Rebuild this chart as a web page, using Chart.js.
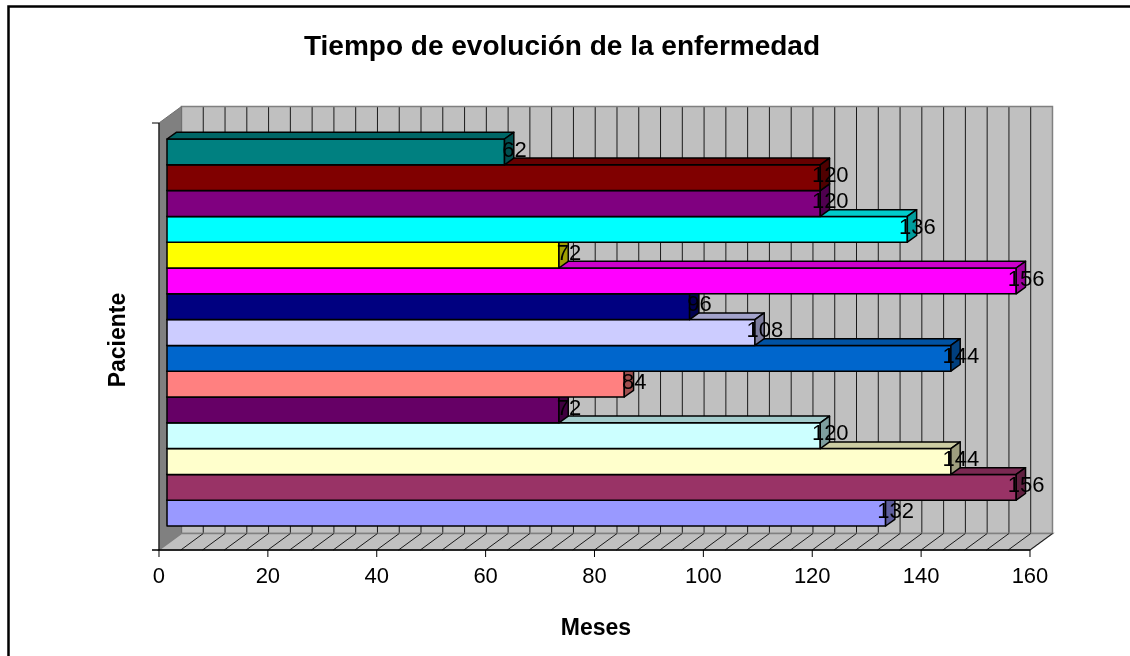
<!DOCTYPE html>
<html lang="es">
<head>
<meta charset="utf-8">
<title>Tiempo de evolución de la enfermedad</title>
<script src="https://cdn.jsdelivr.net/npm/chart.js@4.4.1/dist/chart.umd.min.js"></script>
<style>
  html, body { margin: 0; padding: 0; background: #fff; }
</style>
</head>
<body>
<canvas id="c" width="1130" height="656"></canvas>
<script>
// Datos: paciente 1 abajo, paciente 15 arriba (orden de Excel)
const pacientes = ['1', '2', '3', '4', '5', '6', '7', '8', '9', '10', '11', '12', '13', '14', '15'];
const meses = [132, 156, 144, 120, 72, 84, 144, 108, 96, 156, 72, 136, 120, 120, 62];
const colores = ['#9999FF', '#993366', '#FFFFCC', '#CCFFFF', '#660066', '#FF8080', '#0066CC', '#CCCCFF',
                 '#000080', '#FF00FF', '#FFFF00', '#00FFFF', '#800080', '#800000', '#008080'];
const ticksX = [0, 20, 40, 60, 80, 100, 120, 140, 160];
const pasoGrid = 4;

const TITULO = 'Tiempo de evolución de la enfermedad';
const TITULO_X = 'Meses';
const TITULO_Y = 'Paciente';

const FONT = '"Liberation Sans", Arial, sans-serif';
const PROF = { dx: 22.5, dy: -16.5 };   // profundidad total del "cubo"
const F0 = 0.356;                       // la cara frontal de las barras está a esta fracción
const BAR = { dx: 9.3, dy: -6.7 };      // profundidad de cada barra

function shade(hex, k) {
  const n = parseInt(hex.slice(1), 16);
  const r = Math.round(((n >> 16) & 255) * k);
  const g = Math.round(((n >> 8) & 255) * k);
  const b = Math.round((n & 255) * k);
  return `rgb(${r},${g},${b})`;
}

function poly(ctx, pts, fill, stroke, lw) {
  ctx.beginPath();
  pts.forEach(([px, py], i) => (i ? ctx.lineTo(px, py) : ctx.moveTo(px, py)));
  ctx.closePath();
  if (fill) { ctx.fillStyle = fill; ctx.fill(); }
  if (stroke) { ctx.strokeStyle = stroke; ctx.lineWidth = lw || 1; ctx.stroke(); }
}

function line(ctx, xa, ya, xb, yb, color, lw) {
  ctx.beginPath();
  ctx.moveTo(xa, ya);
  ctx.lineTo(xb, yb);
  ctx.strokeStyle = color;
  ctx.lineWidth = lw || 1;
  ctx.stroke();
}

// geometría del plano frontal a partir del área de la gráfica
function frente(chart) {
  const { chartArea: ca, scales: { x } } = chart;
  const ox = -F0 * PROF.dx, oy = -F0 * PROF.dy;
  return {
    ox, oy,
    x0: x.getPixelForValue(0) + ox,
    x1: x.getPixelForValue(160) + ox,
    yT: ca.top - 16,
    yB: ca.bottom + 24,
  };
}

const excel3d = {
  id: 'excel3d',
  beforeDatasetsDraw(chart) {
    const { ctx, scales: { x } } = chart;
    const f = frente(chart);
    const { dx, dy } = PROF;
    ctx.save();
    ctx.fillStyle = '#fff';
    ctx.fillRect(0, 0, chart.width, chart.height);

    // pared del fondo
    ctx.fillStyle = '#c0c0c0';
    ctx.fillRect(f.x0 + dx, f.yT + dy, f.x1 - f.x0, f.yB - f.yT);
    for (let v = pasoGrid; v < 160; v += pasoGrid) {
      const gx = x.getPixelForValue(v) + f.ox + dx;
      line(ctx, gx, f.yT + dy, gx, f.yB + dy, '#1a1a1a', 1);
    }
    ctx.strokeStyle = '#808080';
    ctx.lineWidth = 1.5;
    ctx.strokeRect(f.x0 + dx, f.yT + dy, f.x1 - f.x0, f.yB - f.yT);

    // pared izquierda
    poly(ctx, [[f.x0, f.yT], [f.x0 + dx, f.yT + dy], [f.x0 + dx, f.yB + dy], [f.x0, f.yB]], '#808080', '#707070', 1);

    // suelo
    poly(ctx, [[f.x0, f.yB], [f.x1, f.yB], [f.x1 + dx, f.yB + dy], [f.x0 + dx, f.yB + dy]], '#c0c0c0', '#808080', 1.5);
    for (let v = pasoGrid; v <= 160; v += pasoGrid) {
      const gx = x.getPixelForValue(v) + f.ox;
      line(ctx, gx, f.yB, gx + dx, f.yB + dy, '#1a1a1a', 1);
    }

    // ejes
    line(ctx, f.x0, f.yT, f.x0, f.yB, '#000', 1);
    line(ctx, f.x0 - 7, f.yB, f.x1, f.yB, '#000', 1.5);
    line(ctx, f.x0 - 7, f.yT, f.x0, f.yT, '#000', 1);
    ticksX.forEach(v => {
      const tx = x.getPixelForValue(v) + f.ox;
      line(ctx, tx, f.yB, tx, f.yB + 7, '#000', 1);
    });
    ctx.restore();
  },
  afterDatasetsDraw(chart) {
    const { ctx } = chart;
    const meta = chart.getDatasetMeta(0);
    ctx.save();
    ctx.lineJoin = 'round';
    meta.data.forEach((el, i) => {
      const { x: xe, y, base, height } = el.getProps(['x', 'y', 'base', 'height'], true);
      const top = y - height / 2, bot = y + height / 2;
      const c = colores[i];
      poly(ctx, [[base, top], [xe, top], [xe, bot], [base, bot]], c, '#000', 1.5);
      poly(ctx, [[base, top], [xe, top], [xe + BAR.dx, top + BAR.dy], [base + BAR.dx, top + BAR.dy]], shade(c, 0.8), '#000', 1.5);
      poly(ctx, [[xe, top], [xe + BAR.dx, top + BAR.dy], [xe + BAR.dx, bot + BAR.dy], [xe, bot]], shade(c, 0.62), '#000', 1.5);
    });
    // etiquetas de valor
    ctx.fillStyle = '#000';
    ctx.font = `22px ${FONT}`;
    ctx.textAlign = 'center';
    ctx.textBaseline = 'alphabetic';
    meta.data.forEach((el, i) => {
      const { x: xe, y, height } = el.getProps(['x', 'y', 'height'], true);
      ctx.fillText(String(meses[i]), xe + 10, y - height / 2 + 17.5);
    });
    ctx.restore();
  },
  afterDraw(chart) {
    const { ctx, scales: { x } } = chart;
    const f = frente(chart);
    ctx.save();
    ctx.fillStyle = '#000';
    // etiquetas del eje X
    ctx.font = `22px ${FONT}`;
    ctx.textAlign = 'center';
    ctx.textBaseline = 'middle';
    ticksX.forEach(v => ctx.fillText(String(v), x.getPixelForValue(v) + f.ox, 577));

    ctx.textBaseline = 'alphabetic';
    ctx.font = `bold 28px ${FONT}`;
    ctx.fillText(TITULO, 562, 55);
    ctx.font = `bold 23px ${FONT}`;
    ctx.fillText(TITULO_X, 596, 634.5);
    ctx.translate(125, 340);
    ctx.rotate(-Math.PI / 2);
    ctx.fillText(TITULO_Y, 0, 0);
    ctx.restore();

    // marco exterior (sólo se ven los lados superior e izquierdo)
    ctx.save();
    ctx.strokeStyle = '#000';
    ctx.lineWidth = 2.5;
    ctx.strokeRect(8.5, 6.5, 2000, 2000);
    ctx.restore();
  },
};

new Chart(document.getElementById('c').getContext('2d'), {
  type: 'bar',
  data: {
    labels: pacientes,
    datasets: [{
      label: TITULO_X,
      data: meses,
      backgroundColor: colores,
      borderColor: '#000',
      borderWidth: 1,
      categoryPercentage: 1,
      barPercentage: 1,
    }],
  },
  options: {
    indexAxis: 'y',
    responsive: false,
    animation: false,
    devicePixelRatio: 1,
    layout: { padding: { left: 167, top: 139, right: 92, bottom: 130 } },
    plugins: {
      legend: { display: false },
      tooltip: { enabled: false },
    },
    scales: {
      x: { display: false, min: 0, max: 160 },
      y: { display: false, reverse: true },
    },
  },
  plugins: [excel3d],
});
</script>
</body>
</html>
